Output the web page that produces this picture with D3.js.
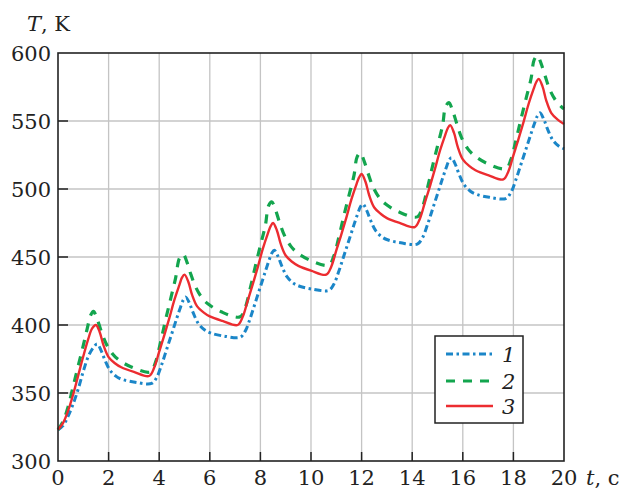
<!DOCTYPE html>
<html><head><meta charset="utf-8">
<script src="https://cdn.jsdelivr.net/npm/d3@7"></script>
<style>body{margin:0;background:#fff}svg{display:block}svg text{font-family:"DejaVu Serif",serif}</style>
</head><body><svg id="c" width="627" height="489"></svg>
<script>
const xTicks = [0,2,4,6,8,10,12,14,16,18,20];
const yTicks = [300,350,400,450,500,550,600];
const seriesNames = ["1","2","3"];

const tBlue = [0,0.2,0.4,0.6,0.8,1.0,1.2,1.4,1.55,1.7,1.85,2.05,2.3,2.55,3.05,3.7,3.9,4.1,4.3,4.5,4.7,4.85,4.95,5.05,5.2,5.35,5.55,5.8,6.05,6.55,7.2,7.4,7.6,7.8,8.0,8.2,8.35,8.45,8.55,8.7,8.85,9.05,9.3,9.55,10.05,10.7,10.9,11.1,11.3,11.5,11.7,11.85,11.95,12.05,12.2,12.35,12.55,12.8,13.05,13.55,14.2,14.4,14.6,14.8,15.0,15.2,15.35,15.45,15.55,15.7,15.85,16.05,16.3,16.55,17.05,17.7,17.9,18.1,18.3,18.5,18.7,18.85,18.95,19.05,19.2,19.35,19.55,19.8,20.0];
const TBlue = [323,326,333,342,353,366,377,383.5,386,381.4,374.4,366.9,362.2,359.9,357.9,357,361.4,371,382.4,393.8,405.3,413.5,418.3,420.5,415.8,408.7,401,396.3,394,391.9,391,395.5,405.1,416.6,428.1,439.6,448,452.8,455,450.3,443.2,435.5,430.8,428.5,426.4,425.5,429.9,439.5,450.9,462.3,473.8,482,486.8,489,484.3,477.2,469.5,464.8,462.5,460.4,459.5,463.9,473.5,484.9,496.3,507.8,516,520.8,523,518.3,511,503.2,498.4,496,493.9,493,497.4,506.9,518.2,529.5,540.9,549.1,553.8,556,551.3,544,536.2,531.4,529.6];

const tGreen = [0,0.2,0.4,0.6,0.8,1.0,1.15,1.3,1.4,1.55,1.7,1.9,2.15,2.4,2.9,3.65,3.85,4.05,4.25,4.45,4.65,4.8,4.95,5.1,5.25,5.45,5.7,5.95,6.45,7.2,7.4,7.6,7.8,8.0,8.2,8.32,8.45,8.6,8.75,8.95,9.2,9.45,9.95,10.7,10.9,11.1,11.3,11.5,11.7,11.82,11.95,12.1,12.25,12.45,12.7,12.95,13.45,14.2,14.4,14.6,14.8,15.0,15.2,15.32,15.45,15.6,15.75,15.95,16.2,16.45,16.95,17.7,17.9,18.1,18.3,18.5,18.7,18.82,18.95,19.1,19.25,19.45,19.7,19.95,20.0];
const TGreen = [323,329,340,355,370,385,397,407.5,410,404.2,396,386.4,378.9,374.4,369.1,365.5,372.4,387.1,403.6,419.1,434.7,449,452,446,437.3,427.6,419.8,415.2,409.7,406,412.8,427.1,443.2,458.4,473.6,487.5,490.5,484.5,475.8,465.9,458,453.3,447.7,444,450.6,464.6,480.3,495.2,510,523.5,526.5,520.5,511.8,501.6,493.6,488.9,483.3,479.5,486.2,500.5,516.5,531.6,546.7,560.5,563.5,557.5,548.8,537.8,529.5,524.7,518.9,515,521.6,535.8,551.5,566.5,581.4,595,598,592,583.3,572.6,564.4,559.6,559];

const tRed = [0,0.2,0.4,0.6,0.8,1.0,1.2,1.35,1.5,1.65,1.8,2.0,2.25,2.5,3.0,3.6,3.8,4.0,4.2,4.4,4.6,4.8,4.9,5.0,5.15,5.3,5.5,5.75,6.0,6.5,7.1,7.3,7.5,7.7,7.9,8.1,8.3,8.4,8.5,8.65,8.8,9.0,9.25,9.5,10.0,10.6,10.8,11.0,11.2,11.4,11.6,11.8,11.9,12.0,12.15,12.3,12.5,12.75,13.0,13.5,14.1,14.3,14.5,14.7,14.9,15.1,15.3,15.4,15.5,15.65,15.8,16.0,16.25,16.5,17.0,17.6,17.8,18.0,18.2,18.4,18.6,18.8,18.9,19.0,19.15,19.3,19.5,19.75,20.0];
const TRed = [323,328,337,349,363,377,390,397.5,400,394.7,385,376.4,371.9,368.9,365.5,362.5,368.5,380.4,392.3,405,418.4,429.5,434.8,437,431.8,422.2,413.7,409.3,406.3,403,400,406,418,430,442.8,456.3,467.5,472.5,475,469.7,459.8,451.1,446.5,443.5,440,437,442.9,454.8,466.6,479.2,492.5,503.6,508.5,511,505.5,495.4,486.4,481.8,478.6,475.1,472,478,490,502,514.8,528.3,539.5,544.5,547,541.4,531,521.8,517,513.8,510.2,507,512.9,524.8,536.6,549.2,562.5,573.6,578.5,581,575.5,565,555.8,551,547.8];

const svg = d3.select("#c");
const x = d3.scaleLinear().domain([0,20]).range([58,564]);
const y = d3.scaleLinear().domain([300,600]).range([461,53]);

// grid
svg.append("g").selectAll("line").data(xTicks.slice(1,-1)).join("line")
  .attr("x1",d=>x(d)).attr("x2",d=>x(d)).attr("y1",y(300)).attr("y2",y(600))
  .attr("stroke","#c4c4c4").attr("stroke-width",1.3);
svg.append("g").selectAll("line").data(yTicks.slice(1,-1)).join("line")
  .attr("y1",d=>y(d)).attr("y2",d=>y(d)).attr("x1",x(0)).attr("x2",x(20))
  .attr("stroke","#c4c4c4").attr("stroke-width",1.3);

// inner ticks
svg.append("g").selectAll("line").data(xTicks.slice(1,-1)).join("line")
  .attr("x1",d=>x(d)).attr("x2",d=>x(d)).attr("y1",y(300)).attr("y2",y(300)-9)
  .attr("stroke","#222").attr("stroke-width",1.5);
svg.append("g").selectAll("line").data(yTicks.slice(1,-1)).join("line")
  .attr("y1",d=>y(d)).attr("y2",d=>y(d)).attr("x1",x(0)).attr("x2",x(0)+10)
  .attr("stroke","#222").attr("stroke-width",1.5);

// series
const mk = (ts,Ts)=>ts.map((t,i)=>[t,Ts[i]]);
const line = d3.line().x(d=>x(d[0])).y(d=>y(d[1])).curve(d3.curveCatmullRom.alpha(0.5));
const styles = [
  {data:mk(tBlue,TBlue), color:"#1b86c8", dash:"7,3.5,2.5,3.5", w:3},
  {data:mk(tGreen,TGreen), color:"#13a54e", dash:"9,8", w:3.2},
  {data:mk(tRed,TRed), color:"#ec2c30", dash:null, w:2.4}
];
styles.forEach(s=>{
  svg.append("path").attr("d",line(s.data)).attr("fill","none")
    .attr("stroke",s.color).attr("stroke-width",s.w)
    .attr("stroke-dasharray",s.dash);
});

// frame
svg.append("rect").attr("x",x(0)).attr("y",y(600)).attr("width",x(20)-x(0)).attr("height",y(300)-y(600))
  .attr("fill","none").attr("stroke","#222").attr("stroke-width",1.6);

// tick labels
svg.append("g").selectAll("text").data(xTicks).join("text")
  .attr("x",d=>x(d)).attr("y",485).attr("text-anchor","middle").attr("font-size",21).attr("fill","#222").text(d=>d);
svg.append("g").selectAll("text").data(yTicks).join("text")
  .attr("x",51).attr("y",d=>y(d)+8).attr("text-anchor","end").attr("font-size",21).attr("fill","#222").text(d=>d);

// axis titles
const yt = svg.append("text").attr("x",27).attr("y",31).attr("font-size",21).attr("fill","#222");
yt.append("tspan").attr("font-style","italic").text("T");
yt.append("tspan").text(", K");
const xt = svg.append("text").attr("x",586).attr("y",485).attr("font-size",21).attr("fill","#222");
xt.append("tspan").attr("font-style","italic").text("t");
xt.append("tspan").text(", c");

// legend
const lg = svg.append("g");
lg.append("rect").attr("x",435).attr("y",336).attr("width",88).attr("height",87)
  .attr("fill","#fff").attr("stroke","#222").attr("stroke-width",1.5);
const ly = [354,381,406];
styles.forEach((s,i)=>{
  lg.append("line").attr("x1",446).attr("x2",493).attr("y1",ly[i]).attr("y2",ly[i])
    .attr("stroke",s.color).attr("stroke-width",s.w).attr("stroke-dasharray",s.dash);
  lg.append("text").attr("x",502).attr("y",ly[i]+8).attr("font-size",21).attr("fill","#222")
    .attr("font-style","italic").text(seriesNames[i]);
});
</script></body></html>
